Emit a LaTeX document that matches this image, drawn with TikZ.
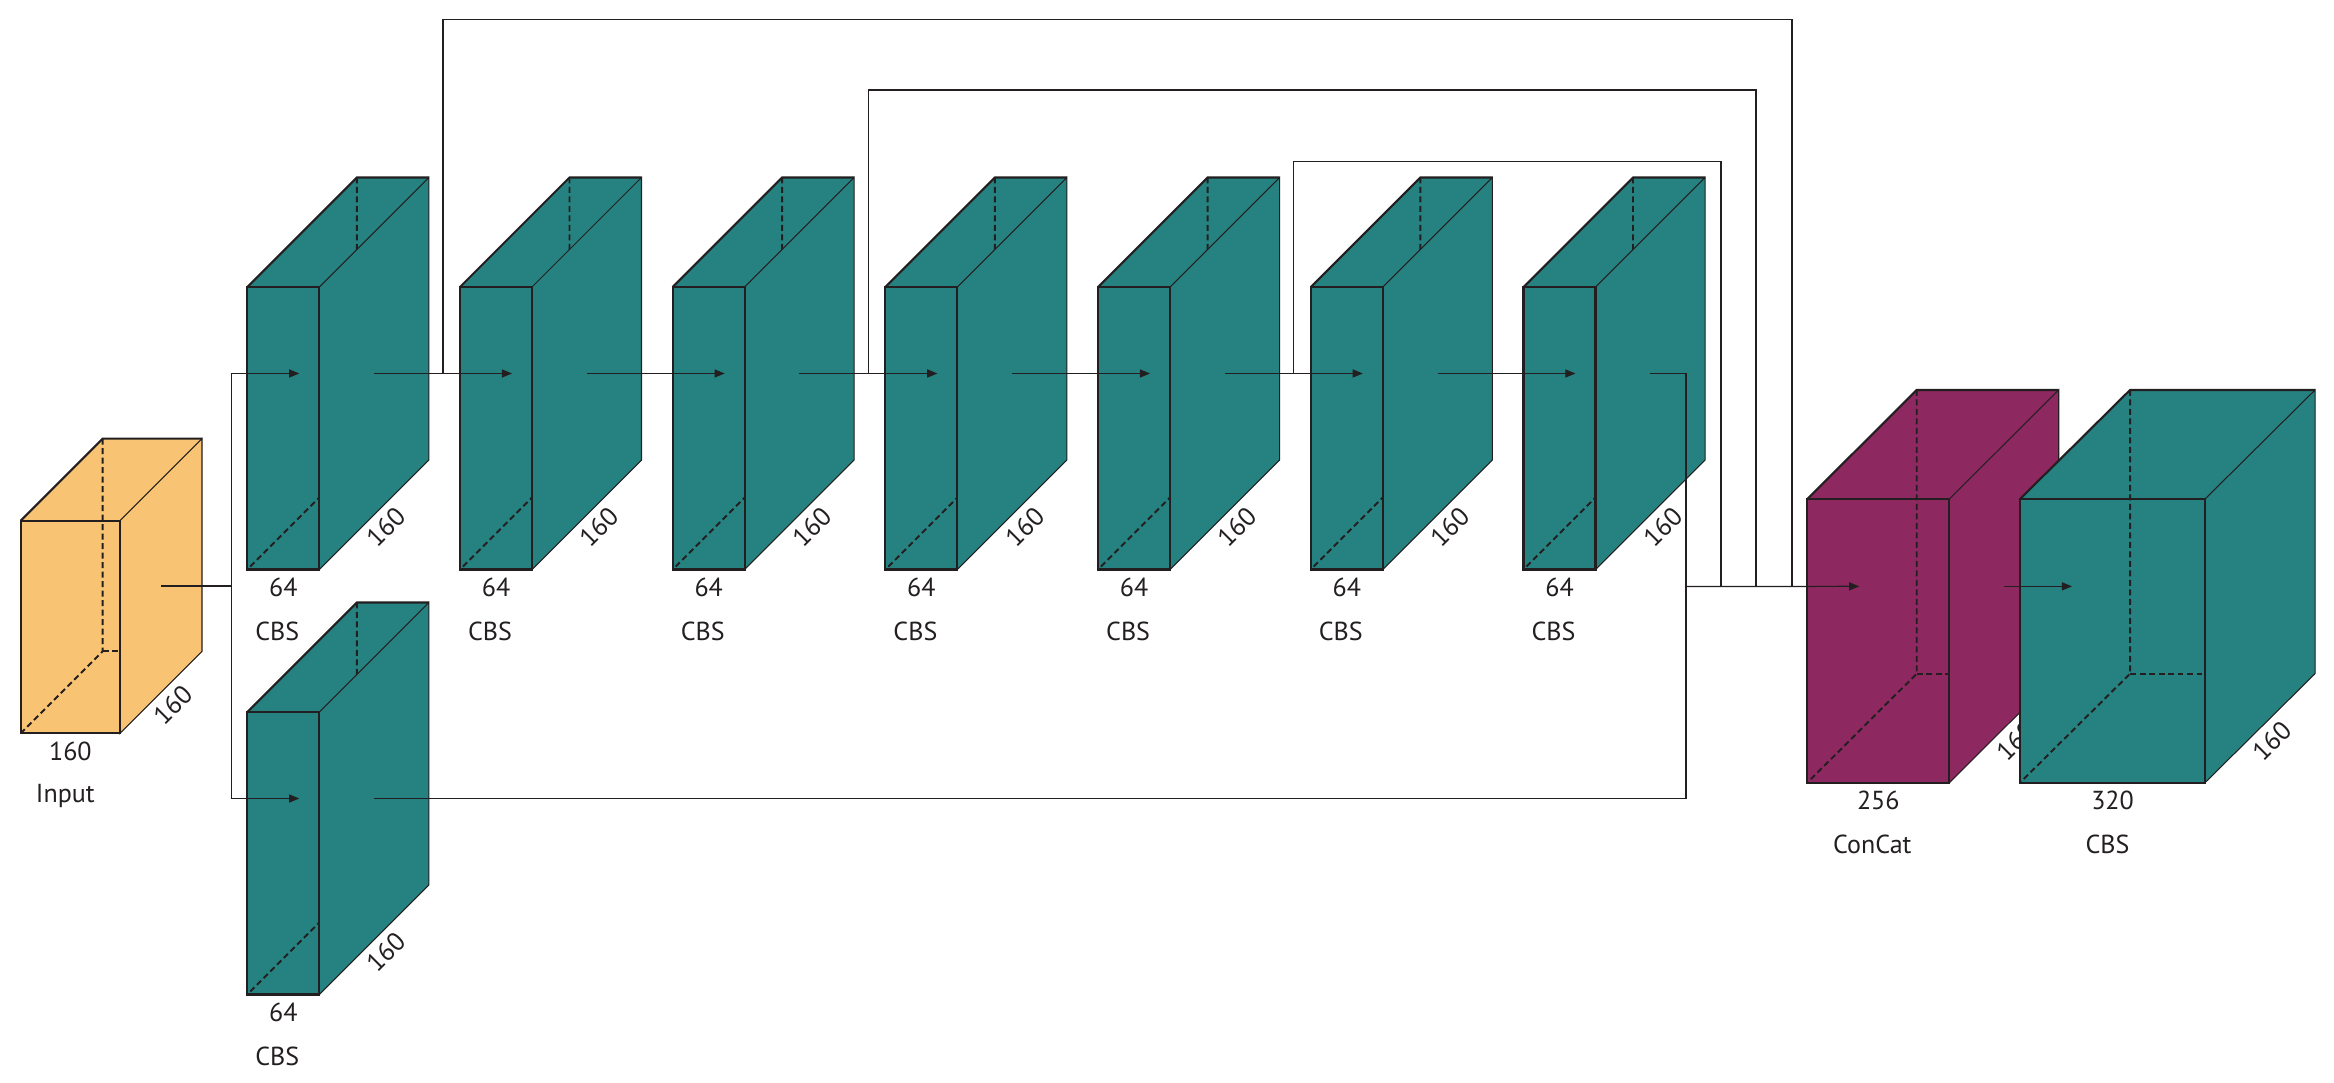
\documentclass[tikz,border=0pt]{standalone}
\usepackage{fontspec}
\setmainfont{PT Sans}
\usepackage{tikz}
\usetikzlibrary{calc, arrows.meta, backgrounds}

\definecolor{verde}{RGB}{38,130,128}
\definecolor{naranja}{RGB}{248,195,114}
\definecolor{morado}{RGB}{142,40,96}
\definecolor{tinta}{RGB}{35,31,32}

\tikzset{
	arista/.style={draw=tinta, line width=0.6pt, line join=miter},
	fina/.style={draw=tinta, line width=0.3pt},
	oculta/.style={draw=tinta, line width=0.55pt, dash pattern=on 1.7pt off 1pt},
	linea/.style={draw=tinta, line width=0.35pt},
	flecha/.style={linea, -{Triangle[length=2.9pt,width=2.3pt]}},
	etiq/.style={font=\fontsize{7.4}{9}\selectfont, text=tinta, inner sep=2.2pt, text height=5.2pt, text depth=0pt},
}

% Bloque: #1 nombre, #2 x, #3 y, #4 ancho, #5 alto, #6 dx, #7 dy, #8 color
\newcommand{\bloque}[8]{%
	\coordinate (#1-ftl) at (#2,#3);
	\coordinate (#1-ftr) at ({#2+#4},#3);
	\coordinate (#1-fbl) at (#2,{#3+#5});
	\coordinate (#1-fbr) at ({#2+#4},{#3+#5});
	\coordinate (#1-btl) at ({#2+#6},{#3-#7});
	\coordinate (#1-btr) at ({#2+#4+#6},{#3-#7});
	\coordinate (#1-bbl) at ({#2+#6},{#3+#5-#7});
	\coordinate (#1-bbr) at ({#2+#4+#6},{#3+#5-#7});
	\coordinate (#1-fbm) at ({#2+#4/2},{#3+#5});
	\coordinate (#1-in) at ({#2+52},{#3+#5/2-#7/2});
	\coordinate (#1-out) at ({#2+#4+#6/2},{#3+#5/2-#7/2});
	\fill[#8] (#1-ftl) rectangle (#1-fbr);
	\fill[#8] (#1-ftl) -- (#1-btl) -- (#1-btr) -- (#1-ftr) -- cycle;
	\draw[oculta] (#1-btl) -- (#1-bbl) -- (#1-fbl);
	\draw[oculta] (#1-bbl) -- (#1-bbr);
	\filldraw[fill=#8, fina] (#1-ftr) -- (#1-btr) -- (#1-bbr) -- (#1-fbr) -- cycle;
	\draw[arista] (#1-ftl) rectangle (#1-fbr);
	\draw[arista] (#1-ftl) -- (#1-btl) -- (#1-btr);
}

\begin{document}
\begin{tikzpicture}[x=0.01cm, y=-0.01cm]
	\useasboundingbox (0,0) rectangle (2334,1083);
	
	% Bloque de entrada
	\bloque{Input}{20.7}{520.7}{99.3}{212.6}{82}{82}{naranja}
	
	% Bloques CBS de la fila superior
	\foreach \i in {1,...,7} {
		\pgfmathsetmacro{\posx}{247.3+212.7*(\i-1)}
		\bloque{CBS\i}{\posx}{287}{72}{282.5}{109.5}{109.5}{verde}
	}
	
	% Bloque CBS de abajo
	\bloque{CBS8}{247.3}{712}{72}{282.5}{109.5}{109.5}{verde}
	
	% ConCat y CBS final
	\bloque{Concat}{1807.3}{499}{142}{283.7}{109.4}{109}{morado}
	\bloque{CBS9}{2020}{499}{185}{283.7}{110}{109}{verde}
	
	% Puntos de union
	\coordinate (rama) at (231.3,586);
	\coordinate (union) at (1686,586.5);
	\coordinate (skipA) at ($(CBS1-out)!.5!(CBS2-in)$);
	\coordinate (skipB) at ($(CBS3-out)!.5!(CBS4-in)$);
	\coordinate (skipC) at ($(CBS5-out)!.5!(CBS6-in)$);
	\coordinate (finA) at (1792,586.5);
	\coordinate (finB) at (1756,586.5);
	\coordinate (finC) at (1721,586.5);
	
	% Conexiones
	\draw[linea] (Input-out) -- (rama);
	\draw[flecha] (rama) |- (CBS1-in);
	\draw[flecha] (rama) |- (CBS8-in);
	\foreach \i in {1,...,6} {
		\pgfmathtruncatemacro{\j}{\i+1}
		\draw[flecha] (CBS\i-out) -- (CBS\j-in);
	}
	\foreach \s/\alto in {A/19.3, B/90, C/161.3} {
		\draw[linea] (skip\s) -- ++(0,{\alto-373.5}) -| (fin\s);
	}
	\draw[linea] (CBS7-out) -| (union);
	\draw[linea] (CBS8-out) -| (union);
	\draw[flecha] (union) -- (Concat-in);
	\draw[flecha] (Concat-out) -- (CBS9-in);
	
	% Etiquetas
	\begin{scope}[on background layer]
		\foreach \i in {1,...,8} {
			\node[etiq, anchor=north] (ancho\i) at (CBS\i-fbm) {64};
			\node[etiq] (nombre\i) at ($(CBS\i-fbm)+(-6,62)$) {CBS};
			\node[etiq, rotate=45, anchor=north] (prof\i) at ($(CBS\i-fbr)!.5!(CBS\i-bbr)$) {160};
		}
		\node[etiq, anchor=north] (anchoIn) at (Input-fbm) {160};
		\node[etiq] (nombreIn) at ($(Input-fbm)+(-5,60)$) {Input};
		\node[etiq, rotate=45, anchor=north] (profIn) at ($(Input-fbr)!.5!(Input-bbr)$) {160};
		
		\node[etiq, anchor=north] (anchoCat) at (Concat-fbm) {256};
		\node[etiq] (nombreCat) at ($(Concat-fbm)+(-6,62)$) {ConCat};
		\node[etiq, rotate=45, anchor=north] (profCat) at ($(Concat-fbr)!.5!(Concat-bbr)$) {160};
		
		\node[etiq, anchor=north] (ancho9) at (CBS9-fbm) {320};
		\node[etiq] (nombre9) at ($(CBS9-fbm)+(-5,62)$) {CBS};
		\node[etiq, rotate=45, anchor=north] (prof9) at ($(CBS9-fbr)!.5!(CBS9-bbr)$) {160};
	\end{scope}
	
\end{tikzpicture}
\end{document}
